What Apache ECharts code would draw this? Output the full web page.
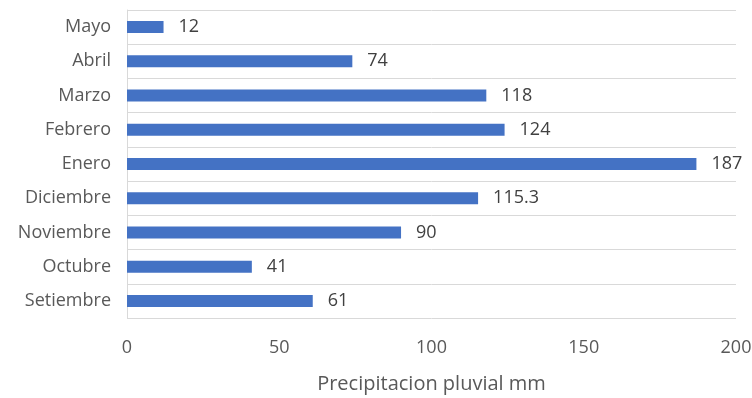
<!DOCTYPE html>
<html><head><meta charset="utf-8">
<script src="https://cdn.jsdelivr.net/npm/echarts@6/dist/echarts.min.js"></script>
<style>html,body{margin:0;padding:0;background:#fff}#c{width:752px;height:398px}</style>
</head><body><div id="c"></div>
<script>
const categories = ['Setiembre','Octubre','Noviembre','Diciembre','Enero','Febrero','Marzo','Abril','Mayo'];
const values = [61, 41, 90, 115.3, 187, 124, 118, 74, 12];
const xTicks = {min: 0, max: 200, interval: 50};
const axisTitle = 'Precipitacion pluvial mm';

const chart = echarts.init(document.getElementById('c'), null, {renderer: 'canvas'});
const font = 'Open Sans';
chart.setOption({
  animation: false,
  grid: {left: 127, right: 16, top: 10, bottom: 80, containLabel: false, outerBoundsMode: 'none'},
  xAxis: {
    type: 'value', min: xTicks.min, max: xTicks.max, interval: xTicks.interval,
    name: axisTitle, nameLocation: 'middle', nameGap: 56,
    nameTextStyle: {color: '#595959', fontSize: 20, fontFamily: font},
    axisLine: {show: false}, axisTick: {show: false},
    splitLine: {show: false},
    axisLabel: {color: '#595959', fontSize: 18, fontFamily: font, margin: 21}
  },
  yAxis: {
    type: 'category', data: categories, boundaryGap: true,
    axisLine: {show: true, lineStyle: {color: '#d9d9d9', width: 1}},
    axisTick: {show: false},
    splitLine: {show: true, lineStyle: {color: '#d9d9d9', width: 1}},
    axisLabel: {color: '#595959', fontSize: 18, fontFamily: font, margin: 16}
  },
  series: [{
    type: 'bar', data: values, barWidth: 12,
    itemStyle: {color: '#4472c4'},
    label: {show: true, position: 'right', distance: 15, color: '#404040', fontSize: 18, fontFamily: font}
  }]
});
</script></body></html>
